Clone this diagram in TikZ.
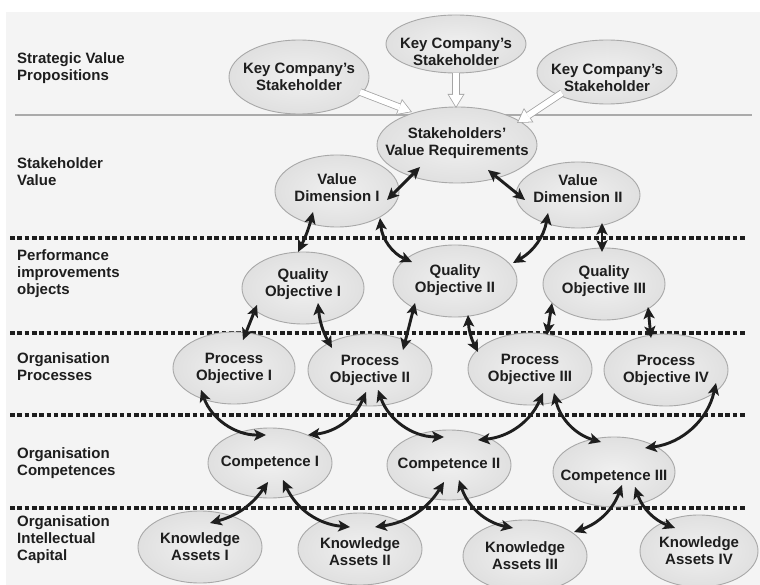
\documentclass[tikz,border=0pt]{standalone}
\usepackage{fontspec}
\setmainfont{Liberation Sans}
\usepackage{tikz}
\usetikzlibrary{shapes.geometric, arrows.meta, positioning}

\definecolor{panelgray}{RGB}{244,244,244}
\definecolor{ellin}{RGB}{240,240,240}
\definecolor{ellout}{RGB}{224,224,224}
\definecolor{ellline}{RGB}{168,168,168}
\definecolor{rulegray}{RGB}{170,170,170}
\definecolor{inkdark}{RGB}{30,30,30}
\definecolor{hollowline}{RGB}{165,165,165}

\newcommand{\diagfont}{\fontsize{15}{17}\selectfont\bfseries}

\tikzstyle{stake} = [ellipse, draw=ellline, line width=0.9pt, inner color=ellin, outer color=ellout, minimum width=124pt, minimum height=72pt, inner sep=0pt]
\tikzstyle{layer} = [anchor=west, align=left, inner sep=0pt, font=\diagfont, text=inkdark]
\tikzstyle{divider} = [line width=4pt, draw=inkdark, dash pattern=on 4.6pt off 2.7pt]
\tikzstyle{link} = [line width=2.9pt, draw=inkdark, <->, >={Stealth[length=12pt, width=11.5pt, inset=3pt, line width=0pt]}]
\tikzstyle{hollow} = [line width=7.4pt, draw=hollowline, -{Triangle[length=14pt, width=17pt, line width=0pt]},
  postaction={draw=white, line width=5.8pt, shorten >=1.5pt, -{Triangle[length=11.7pt, width=14.2pt, line width=0pt]}}]

\begin{document}
\begin{tikzpicture}[
        x=1pt, y=-1pt,
        every label/.style={font=\diagfont, text=inkdark, align=center, inner sep=0pt}
      ]
        \useasboundingbox (0,0) rectangle (760,585);
        \fill[panelgray] (6,12) rectangle (760,585);

        % Layer names
        \node (lab_strategic) [layer] at (17,68.5) {Strategic Value\\Propositions};
        \node (lab_value) [layer] at (17,171.5) {Stakeholder\\Value};
        \node (lab_perf) [layer] at (17,274) {Performance\\improvements\\objects};
        \node (lab_process) [layer] at (17,367) {Organisation\\Processes};
        \node (lab_comp) [layer] at (17,463) {Organisation\\Competences};
        \node (lab_capital) [layer] at (17,540) {Organisation\\Intellectual\\Capital};

        % Layer borders
        \draw [rulegray, line width=1.5pt] (15,115) coordinate (rule_a) -- (752,115) coordinate (rule_b);
        \foreach \yy/\nm in {238/one, 333/two, 415/three, 508/four}
          \draw [divider] (10,\yy) coordinate (dots_\nm_a) -- (745,\yy) coordinate (dots_\nm_b);

        % Strategic value propositions
        \node (key_left) [stake, minimum width=140pt, minimum height=74pt, label={center:{Key Company's\\Stakeholder}}] at (299,77) {};
        \node (key_mid) [stake, minimum width=140pt, minimum height=58pt, label={[yshift=-8pt]center:{Key Company's\\Stakeholder}}] at (456,44) {};
        \node (key_right) [stake, minimum width=140pt, minimum height=64pt, label={[yshift=-6pt]center:{Key Company's\\Stakeholder}}] at (607,72) {};

        % Stakeholder value
        \node (value_req) [stake, minimum width=160pt, minimum height=76pt, label={[yshift=2pt]center:{Stakeholders'\\Value Requirements}}] at (457,145) {};
        \node (value_dim_i) [stake, label={[yshift=3pt]center:{Value\\Dimension I}}] at (337,191) {};
        \node (value_dim_ii) [stake, minimum height=66pt, label={[yshift=6pt]center:{Value\\Dimension II}}] at (578,195) {};

        % Performance improvements
        \node (quality_i) [stake, minimum width=122pt, label={[yshift=4pt]center:{Quality\\Objective I}}] at (303,288) {};
        \node (quality_ii) [stake, label={[yshift=1pt]center:{Quality\\Objective II}}] at (455,281) {};
        \node (quality_iii) [stake, minimum width=122pt, label={[yshift=3pt]center:{Quality\\Objective III}}] at (604,284) {};

        % Processes
        \node (process_i) [stake, minimum width=122pt, label={center:{Process\\Objective I}}] at (234,368) {};
        \node (process_ii) [stake, label={center:{Process\\Objective II}}] at (370,370) {};
        \node (process_iii) [stake, label={center:{Process\\Objective III}}] at (530,369) {};
        \node (process_iv) [stake, label={center:{Process\\Objective IV}}] at (666,370) {};

        % Competences
        \node (comp_i) [stake, minimum height=70pt, label={center:{Competence I}}] at (270,463) {};
        \node (comp_ii) [stake, minimum height=70pt, label={center:{Competence II}}] at (449,465) {};
        \node (comp_iii) [stake, minimum width=122pt, minimum height=70pt, label={[yshift=-5pt]center:{Competence III}}] at (614,472) {};

        % Intellectual capital
        \node (know_i) [stake, label={center:{Knowledge\\Assets I}}] at (200,547) {};
        \node (know_ii) [stake, label={[yshift=-3pt]center:{Knowledge\\Assets II}}] at (360,549) {};
        \node (know_iii) [stake, label={center:{Knowledge\\Assets III}}] at (525,556) {};
        \node (know_iv) [stake, minimum width=118pt, label={center:{Knowledge\\Assets IV}}] at (699,551) {};

        % Stakeholders into requirements
        \draw [hollow] ([shift={(61,15)}]key_left.center) -- ([shift={(-45,-33)}]value_req.center);
        \draw [hollow] ([shift={(0,29)}]key_mid.center) -- ([shift={(-1,-37)}]value_req.center);
        \draw [hollow] ([shift={(-45,21)}]key_right.center) -- ([shift={(60,-22)}]value_req.center);

        % Requirements to quality objectives
        \draw [link] ([shift={(-37,22)}]value_req.center) -- ([shift={(50,9)}]value_dim_i.center);
        \draw [link] ([shift={(31,25)}]value_req.center) -- ([shift={(-53,5)}]value_dim_ii.center);
        \draw [link] ([shift={(-24,21)}]value_dim_i.center) to[bend left=6] ([shift={(-5,-36)}]quality_i.center);
        \draw [link] ([shift={(43,27)}]value_dim_i.center) to[bend right=30] ([shift={(-43,-19)}]quality_ii.center);
        \draw [link] ([shift={(-30,18)}]value_dim_ii.center) to[bend left=25] ([shift={(58,-18)}]quality_ii.center);
        \draw [link] ([shift={(24,28)}]value_dim_ii.center) -- ([shift={(-2,-32)}]quality_iii.center);

        % Quality to process objectives
        \draw [link] ([shift={(-46,17)}]quality_i.center) -- ([shift={(9,-28)}]process_i.center);
        \draw [link] ([shift={(15,15)}]quality_i.center) to[bend right=12] ([shift={(-38,-22)}]process_ii.center);
        \draw [link] ([shift={(-40,22)}]quality_ii.center) -- ([shift={(33,-20)}]process_ii.center);
        \draw [link] ([shift={(13,34)}]quality_ii.center) to[bend right=12] ([shift={(-52,-17)}]process_iii.center);
        \draw [link] ([shift={(-52,19)}]quality_iii.center) -- ([shift={(17,-34)}]process_iii.center);
        \draw [link] ([shift={(44,23)}]quality_iii.center) -- ([shift={(-15,-32)}]process_iv.center);

        % Process objectives to competences
        \draw [link] ([shift={(-33,22)}]process_i.center) to[bend right=35] ([shift={(-4,-28)}]comp_i.center);
        \draw [link] ([shift={(-4,22)}]process_ii.center) to[bend left=30] ([shift={(38,-28)}]comp_i.center);
        \draw [link] ([shift={(8,20)}]process_ii.center) to[bend right=35] ([shift={(-5,-28)}]comp_ii.center);
        \draw [link] ([shift={(13,24)}]process_iii.center) to[bend left=30] ([shift={(29,-25)}]comp_ii.center);
        \draw [link] ([shift={(24,24)}]process_iii.center) to[bend right=30] ([shift={(-13,-30)}]comp_iii.center);
        \draw [link] ([shift={(50,13)}]process_iv.center) to[bend left=35] ([shift={(31,-24)}]comp_iii.center);

        % Competences to knowledge assets
        \draw [link] ([shift={(-2,19)}]comp_i.center) to[bend left=20] ([shift={(10,-24)}]know_i.center);
        \draw [link] ([shift={(13,17)}]comp_i.center) to[bend right=30] ([shift={(-10,-22)}]know_ii.center);
        \draw [link] ([shift={(-5,17)}]comp_ii.center) to[bend left=25] ([shift={(15,-22)}]know_ii.center);
        \draw [link] ([shift={(10,15)}]comp_ii.center) to[bend right=30] ([shift={(-12,-28)}]know_iii.center);
        \draw [link] ([shift={(8,13)}]comp_iii.center) to[bend left=25] ([shift={(49,-24)}]know_iii.center);
        \draw [link] ([shift={(21,15)}]comp_iii.center) to[bend right=25] ([shift={(-24,-23)}]know_iv.center);
      \end{tikzpicture}
\end{document}
